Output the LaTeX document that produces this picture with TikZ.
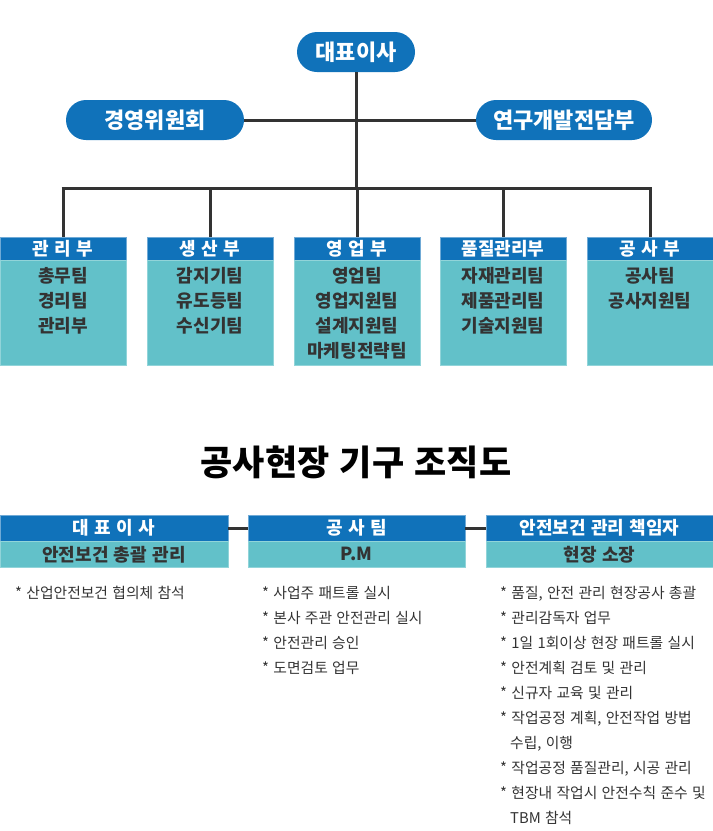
\documentclass[tikz,border=0pt]{standalone}
\usepackage{fontspec}
\setmainfont[WordSpace=1.3]{Noto Sans CJK KR}
\usetikzlibrary{calc}

\definecolor{hdblue}{RGB}{16,114,186}
\definecolor{bodyteal}{RGB}{98,193,201}
\definecolor{linegray}{RGB}{51,51,51}

\begin{document}
\begin{tikzpicture}[
  x=1pt, y=-1pt,
  link/.style={linegray, line width=3pt},
  pill/.style={rectangle, rounded corners=20pt, fill=hdblue, text=white,
    font=\fontsize{22}{22}\selectfont\bfseries, minimum height=40pt, inner sep=0pt},
  head/.style={rectangle, fill=hdblue, draw=hdblue!60!white, text=white,
    font=\fontsize{18}{18}\selectfont\bfseries, minimum width=126pt, minimum height=23pt, inner sep=0pt},
  body/.style={rectangle, fill=bodyteal, draw=bodyteal!70!white, minimum width=126pt,
    minimum height=105pt, inner sep=0pt, anchor=north},
  items/.style={anchor=north, align=center, text=linegray,
    font=\fontsize{18}{25}\selectfont\bfseries, inner sep=0pt},
  wide head/.style={head, minimum width=228pt, minimum height=26pt},
  wide body/.style={rectangle, fill=bodyteal, draw=bodyteal!70!white, text=linegray,
    font=\fontsize{18}{18}\selectfont\bfseries, minimum width=228pt, minimum height=26pt, inner sep=0pt},
  notes/.style={anchor=north west, align=left, text=linegray,
    font=\fontsize{14.8}{25}\selectfont, inner sep=0pt},
]
\useasboundingbox (0,0) rectangle (713,831);

% 상단 조직도
\node[pill, minimum width=118pt] (ceo) at (356,52) {대표이사};
\node[pill, minimum width=178pt] (mgmt) at (155,120) {경영위원회};
\node[pill, minimum width=176pt] (rnd) at (564,120) {연구개발전담부};
\coordinate (bus) at (356,188);

\draw[link] (ceo.south) -- (bus);
\draw[link] (mgmt.east) -- (rnd.west);

% 부서 박스
\foreach \cx/\nm/\hd/\it in {
  63/d1/관 리 부/{총무팀\\경리팀\\관리부},
  210/d2/생 산 부/{감지기팀\\유도등팀\\수신기팀},
  357/d3/영 업 부/{영업팀\\영업지원팀\\설계지원팀\\마케팅전략팀},
  503/d4/품질관리부/{자재관리팀\\제품관리팀\\기술지원팀},
  650/d5/공 사 부/{공사팀\\공사지원팀}} {
  \node[head] (\nm) at (\cx,248.5) {\hd};
  \node[body] (\nm-b) at (\nm.south) {};
  \node[items] (\nm-t) at ($(\nm-b.north)+(0,7)$) {\it};
  \draw[link] (\nm.north) -- (\nm.north |- bus);
}
\draw[link] ($(d1.north |- bus)+(-1.5,0)$) -- ($(d5.north |- bus)+(1.5,0)$);

% 제목
\node[font=\fontsize{35}{35}\selectfont\bfseries, text=black] (title) at (356,462) {공사현장 기구 조직도};

% 하단 안전보건 조직
\node[wide head] (s1) at (114,528) {대 표 이 사};
\node[wide body, anchor=north] (s1-b) at (s1.south) {안전보건 총괄 관리};
\node[wide head, minimum width=217pt] (s2) at (356.5,528) {공 사 팀};
\node[wide body, anchor=north, minimum width=217pt] (s2-b) at (s2.south) {P.M};
\node[wide head, minimum width=227pt] (s3) at (599.5,528) {안전보건 관리 책임자};
\node[wide body, anchor=north, minimum width=227pt] (s3-b) at (s3.south) {현장 소장};

\draw[link] (s1.east) -- (s2.west);
\draw[link] (s2.east) -- (s3.west);

\node[notes] (n1) at (15,586) {* 산업안전보건 협의체 참석};
\node[notes] (n2) at (262,586) {* 사업주 패트롤 실시\\* 본사 주관 안전관리 실시\\* 안전관리 승인\\* 도면검토 업무};
\node[notes] (n3) at (500,586) {* 품질, 안전 관리 현장공사 총괄\\* 관리감독자 업무\\* 1일 1회이상 현장 패트롤 실시\\* 안전계획 검토 및 관리\\* 신규자 교육 및 관리\\* 작업공정 계획, 안전작업 방법\\\hspace*{10pt}수립, 이행\\* 작업공정 품질관리, 시공 관리\\* 현장내 작업시 안전수칙 준수 및\\\hspace*{10pt}TBM 참석};

\end{tikzpicture}
\end{document}
